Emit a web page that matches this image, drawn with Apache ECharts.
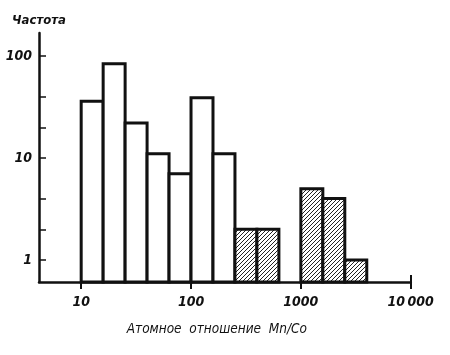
<!DOCTYPE html>
<html><head><meta charset="utf-8">
<script src="https://cdn.jsdelivr.net/npm/echarts@6/dist/echarts.min.js"></script>
<style>html,body{margin:0;padding:0;background:#fff}#c{width:450px;height:355px}</style>
</head><body><div id="c"></div>
<script>
// Histogram bins (log-spaced, 0.2 decade wide) of atomic ratio Mn/Co
const binLow  = [10, 15.85, 25.12, 39.81, 63.1, 100, 158.5, 251.2, 398.1, 1000, 1585, 2512];
const binHigh = [15.85, 25.12, 39.81, 63.1, 100, 158.5, 251.2, 398.1, 631, 1585, 2512, 3981];
const freq    = [36, 84, 22, 11, 7, 39, 11, 2, 2, 5, 4, 1];
const hatched = [0, 0, 0, 0, 0, 0, 0, 1, 1, 1, 1, 1];
const xTicks = [10, 100, 1000, 10000];
const xEndTick = [10000];
const yTicks = [1, 2, 4, 10, 20, 40, 100];
const yLabels = [1, 10, 100];
const X_MIN = 4.13, X_MAX = 10000, Y_MIN = 0.609, Y_MAX = 168;

const FONT = "'DejaVu Sans Condensed','Liberation Sans Narrow','Liberation Sans',sans-serif";

const pc = document.createElement('canvas'); pc.width = 4; pc.height = 4;
const ctx = pc.getContext('2d');
ctx.fillStyle = '#fff'; ctx.fillRect(0, 0, 4, 4);
ctx.strokeStyle = '#222'; ctx.lineWidth = 1;
ctx.beginPath();
ctx.moveTo(0, 4); ctx.lineTo(4, 0);
ctx.moveTo(-1, 1); ctx.lineTo(1, -1);
ctx.moveTo(3, 5); ctx.lineTo(5, 3);
ctx.stroke();
const hatchFill = { image: pc, repeat: 'repeat' };

const data = binLow.map((lo, i) => [lo, binHigh[i], freq[i], hatched[i]]);

const chart = echarts.init(document.getElementById('c'), null, { renderer: 'canvas' });
chart.setOption({
  animation: false,
  backgroundColor: '#fff',
  grid: { left: 39, right: 39.3, top: 33, bottom: 73 },
  xAxis: [{
    type: 'log', logBase: 10, min: X_MIN, max: X_MAX,
    axisLine: { lineStyle: { color: '#111', width: 2.5 } },
    axisTick: { customValues: xTicks, length: 7, lineStyle: { color: '#111', width: 2 } },
    axisLabel: {
      customValues: xTicks, margin: 13, color: '#111', fontSize: 14, fontStyle: 'italic', fontWeight: 'bold', fontFamily: FONT,
      formatter: v => v >= 10000 ? '10\u2009000' : String(v)
    },
    splitLine: { show: false },
    name: 'Атомное  отношение  Mn/Co', nameLocation: 'middle', nameGap: 40,
    nameTextStyle: { color: '#111', fontSize: 13.5, fontStyle: 'italic', fontWeight: 'normal', fontFamily: FONT, padding: [0, 16, 0, 0] }
  }, {
    type: 'log', logBase: 10, min: X_MIN, max: X_MAX, position: 'bottom',
    axisLine: { show: false },
    axisTick: { customValues: xEndTick, inside: true, length: 7, lineStyle: { color: '#111', width: 2 } },
    axisLabel: { show: false }, splitLine: { show: false }
  }],
  yAxis: {
    type: 'log', logBase: 10, min: Y_MIN, max: Y_MAX,
    axisLine: { show: true, lineStyle: { color: '#111', width: 2.5 } },
    axisTick: { show: true, customValues: yTicks, inside: true, length: 7, lineStyle: { color: '#111', width: 1.5 } },
    axisLabel: { customValues: yLabels, margin: 7, color: '#111', fontSize: 14, fontStyle: 'italic', fontWeight: 'bold', fontFamily: FONT },
    splitLine: { show: false },
    name: 'Частота', nameLocation: 'end', nameGap: 6,
    nameTextStyle: { color: '#111', fontSize: 13, fontStyle: 'italic', fontWeight: 'bold', fontFamily: FONT, align: 'center' }
  },
  series: [{
    type: 'custom',
    xAxisIndex: 0,
    data: data,
    encode: { x: [0, 1], y: 2 },
    renderItem: function (params, api) {
      const lo = api.value(0), hi = api.value(1), f = api.value(2), h = api.value(3);
      const p0 = api.coord([lo, f]);
      const p1 = api.coord([hi, Y_MIN]);
      return {
        type: 'rect',
        shape: { x: p0[0], y: p0[1], width: p1[0] - p0[0], height: p1[1] - p0[1] },
        style: { fill: h ? hatchFill : '#fff', stroke: '#111', lineWidth: 3 }
      };
    }
  }]
});
</script></body></html>
